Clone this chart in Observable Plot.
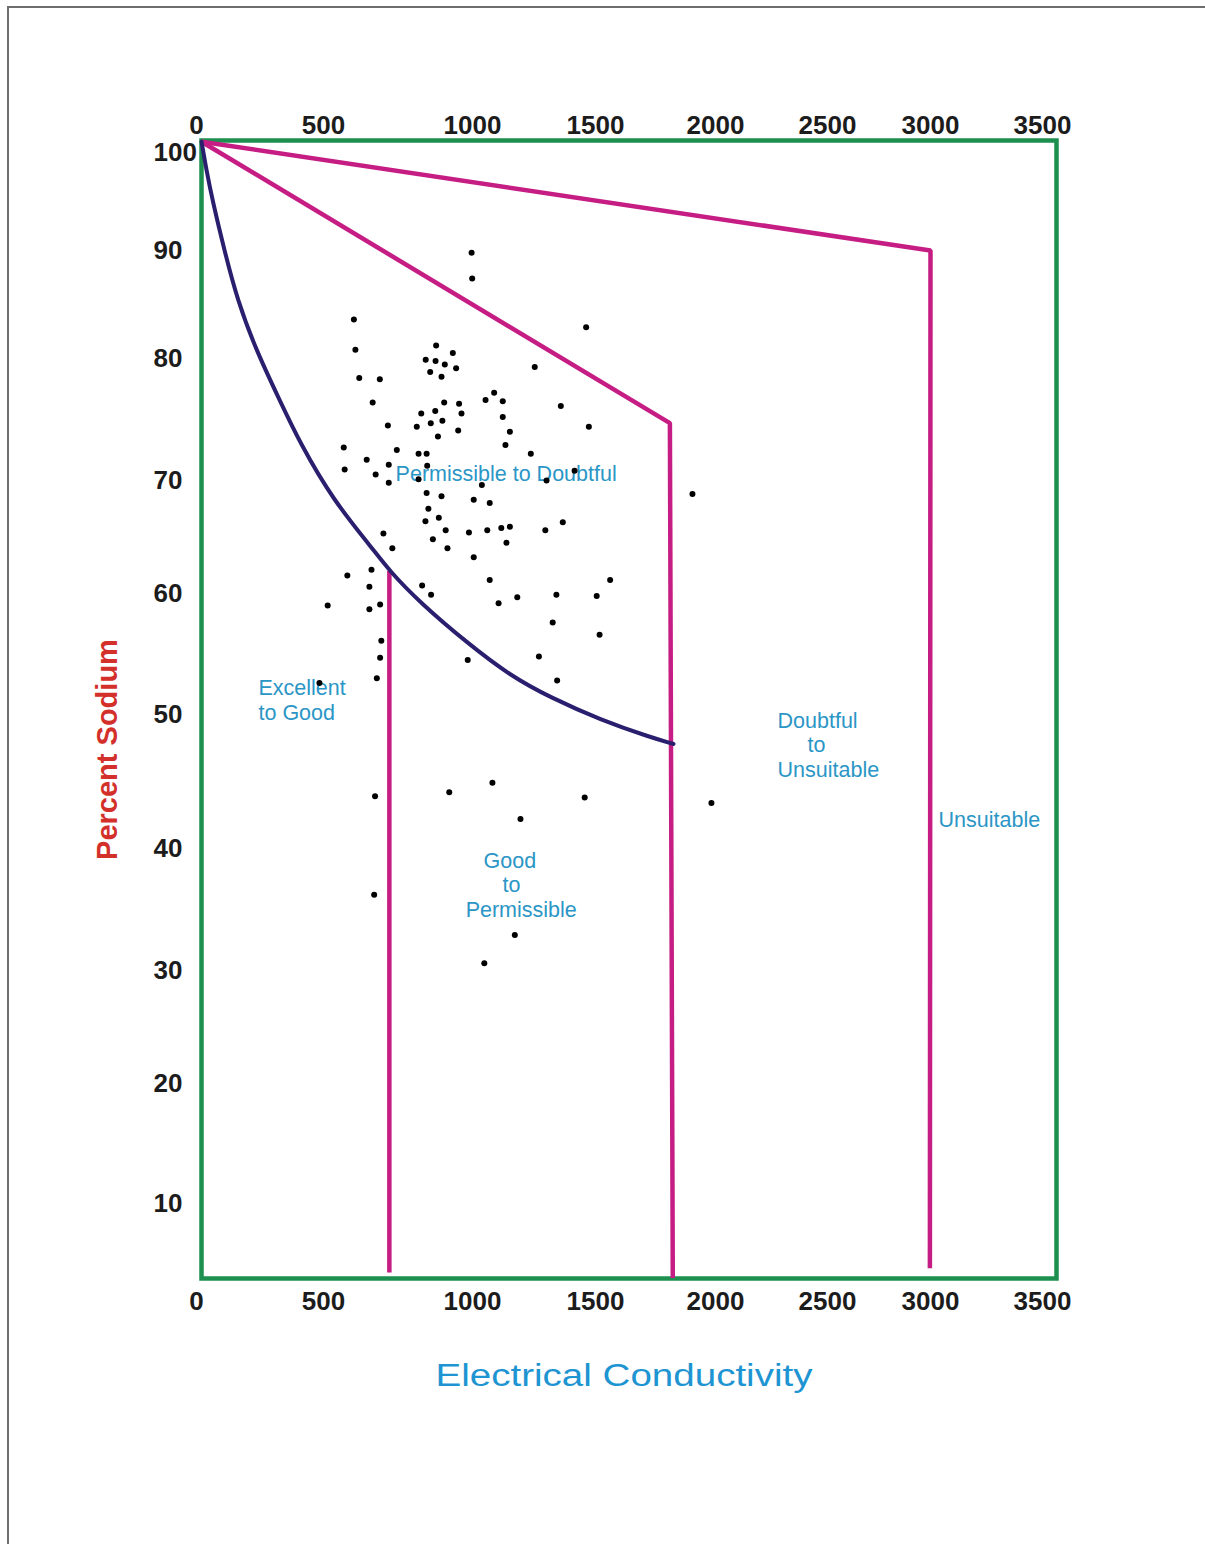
<!DOCTYPE html>
<html>
<head>
<meta charset="utf-8">
<script src="https://cdn.jsdelivr.net/npm/d3@7"></script>
<script src="https://cdn.jsdelivr.net/npm/@observablehq/plot@0.6"></script>
<style>
  body { margin: 0; background: #fff; }
  #page { position: relative; width: 1205px; height: 1544px; overflow: hidden; background: #fff; }
  #chart { position: absolute; left: 0; top: 0; }
  #border { position: absolute; left: 7px; top: 6px; width: 1300px; height: 1700px;
            border-left: 2px solid #6e6e6e; border-top: 2px solid #6e6e6e; pointer-events: none; }
</style>
</head>
<body>
<div id="page"><div id="chart"></div><div id="border"></div></div>
<script>
// Axis tick values
const ecTicks = [0, 500, 1000, 1500, 2000, 2500, 3000, 3500];
const naTicks = [100, 90, 80, 70, 60, 50, 40, 30, 20, 10];

// Water samples (EC, % Na)
const sampleEC = [602,1462,607,878,934,843,876,907,945,1253,858,896,620,689,1088,1053,1123,905,955,665,
  1359,963,828,875,899,860,1123,716,813,952,884,1152,1473,1134,568,746,819,846,1237,645,
  719,848,571,675,1415,819,719,1038,1301,846,896,1005,1070,852,842,887,1367,701,910,988,
  1060,1117,1152,1296,867,1138,731,916,1005,661,580,654,831,861,1070,1561,1341,1505,1182,1106,
  514,654,690,1326,1517,694,690,984,1270,679,1344,484,997,999,1904,673,670,922,1081,1195,
  1456,1983,1172,1048];
const sampleNa = [83.6,82.9,80.8,81.2,80.5,79.9,79.8,79.5,79.2,79.3,78.9,78.5,78.4,78.3,77.2,76.6,76.5,76.4,76.3,76.4,
  76.1,75.5,75.5,75.7,74.9,74.7,75.2,74.5,74.4,74.1,73.6,74.0,74.4,72.9,72.7,72.5,72.2,72.2,72.2,71.7,
  71.3,71.2,70.9,70.5,70.8,70.1,69.8,69.6,70.0,68.9,68.6,68.3,68.0,67.5,66.4,66.7,66.3,65.3,65.6,65.4,
  65.6,65.8,65.9,65.6,64.8,64.5,64.0,64.0,63.2,62.1,61.6,60.6,60.7,59.9,61.2,61.2,59.9,59.8,59.7,59.2,
  59.0,58.7,59.1,57.6,56.6,56.1,54.7,54.5,54.8,53.0,52.8,52.6,89.8,87.4,68.8,43.9,36.2,44.2,44.9,42.2,
  43.8,43.4,32.9,30.6];

// Class boundaries
const upperEC = [20, 3000, 2997];
const upperNa = [101.1, 90, 4.6];
const middleEC = [20, 1810, 1822];
const middleNa = [101.1, 74.7, 3.8];
const leftEC = [721, 721];
const leftNa = [62.0, 4.25];
const curveEC = [20, 39, 63, 110, 161, 236, 327, 409, 534, 664, 721, 826, 983, 1154, 1317, 1521, 1729, 1825];
const curveNa = [101.1, 98.2, 95.1, 90, 85.4, 80.7, 76.6, 73.0, 68.2, 64.0, 62.0, 59.2, 55.9, 53.2, 51.4, 49.6, 48.3, 47.8];

// Zone labels
const zoneText = ["Permissible to Doubtful", "Excellent", "to Good", "Good", "to", "Permissible",
  "Doubtful", "to", "Unsuitable", "Unsuitable"];
const zoneEC = [742, 244, 244, 1045, 1122, 977, 2277, 2411, 2277, 3036];
const zoneNa = [70.0, 51.6, 49.6, 38.4, 36.4, 34.4, 49.0, 47.2, 45.3, 41.6];

const samples = sampleEC.map((ec, i) => ({ec, na: sampleNa[i]}));
const toPts = (xs, ys) => xs.map((ec, i) => ({ec, na: ys[i]}));
const zones = zoneText.map((t, i) => ({t, ec: zoneEC[i], na: zoneNa[i]}));

// The printed diagram's graduations are unevenly spaced: piecewise-linear scales through the tick marks
const ecScale = d3.scaleLinear().domain(ecTicks).range([196, 323, 472, 595, 715, 827, 930, 1042]);
const naScale = d3.scaleLinear().domain(naTicks).range([152, 250, 358, 480, 593, 714, 848, 970, 1083, 1203]);

const PINK = "#c61d84", NAVY = "#2a1f6e", GREEN = "#1d8f4e", ZONE = "#2b96c6";
const FONT = "'Liberation Sans', Arial, Helvetica, sans-serif";

const chart = Plot.plot({
  width: 1205, height: 1544,
  marginLeft: 201, marginRight: 149, marginTop: 140, marginBottom: 266,
  style: {fontFamily: FONT, background: "transparent", color: "#1c1c1c", overflow: "visible"},
  x: {type: "linear", transform: d => ecScale(d), domain: [0, 1205], range: [0, 1205], axis: null},
  y: {type: "linear", transform: d => naScale(d), domain: [0, 1544], range: [0, 1544], axis: null},
  marks: [
    Plot.frame({stroke: GREEN, strokeWidth: 4.5}),
    Plot.line(toPts(upperEC, upperNa), {x: "ec", y: "na", stroke: PINK, strokeWidth: 4.5, strokeLinejoin: "miter", strokeLinecap: "butt"}),
    Plot.line(toPts(middleEC, middleNa), {x: "ec", y: "na", stroke: PINK, strokeWidth: 4.5, strokeLinejoin: "miter", strokeLinecap: "butt"}),
    Plot.line(toPts(leftEC, leftNa), {x: "ec", y: "na", stroke: PINK, strokeWidth: 4.5, strokeLinecap: "butt"}),
    Plot.line(toPts(curveEC, curveNa), {x: "ec", y: "na", stroke: NAVY, strokeWidth: 4, curve: "basis"}),
    // axis tick labels
    Plot.text(ecTicks, {x: d => d, frameAnchor: "top", dy: -7, lineAnchor: "bottom", text: d => String(d), fontSize: 26, fontWeight: "bold"}),
    Plot.text(ecTicks, {x: d => d, frameAnchor: "bottom", dy: 13, lineAnchor: "top", text: d => String(d), fontSize: 26, fontWeight: "bold"}),
    Plot.text(naTicks, {y: d => d, frameAnchor: "left", dx: -48, textAnchor: "start", text: d => String(d), fontSize: 26, fontWeight: "bold"}),
    // axis titles
    Plot.text(["Percent Sodium"], {frameAnchor: "left", dx: -94, dy: 40, rotate: -90, textAnchor: "middle", text: d => d,
      fontSize: 29, fontWeight: "bold", fill: "#d3302b"}),
    Plot.text(["Electrical Conductivity"], {frameAnchor: "bottom", dx: -5, dy: 107, lineAnchor: "bottom", textAnchor: "middle",
      text: d => d, fontSize: 31, fill: "#1e95d2"}),
    // zone labels
    Plot.text(zones, {x: "ec", y: "na", text: "t", textAnchor: "start", lineAnchor: "bottom", fontSize: 21.5, fill: ZONE}),
    // samples
    Plot.dot(samples, {x: "ec", y: "na", r: 3, fill: "#000", stroke: null})
  ]
});

d3.select(chart).selectAll("text").filter(function () { return this.textContent === "Electrical Conductivity"; })
  .attr("textLength", 377).attr("lengthAdjust", "spacingAndGlyphs");

document.getElementById("chart").appendChild(chart);
</script>
</body>
</html>
